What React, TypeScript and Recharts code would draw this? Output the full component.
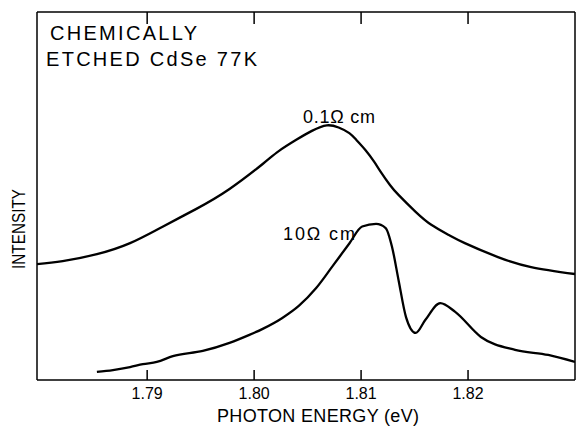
import { LineChart, Line, XAxis, YAxis } from "recharts";

// photon energy (eV) / relative intensity
const lowResEnergy = [
	1.7797, 1.7821, 1.7853, 1.7884, 1.7914, 1.7946, 1.7977, 1.8008, 1.8023, 1.8039, 1.8054, 1.8068, 1.8079, 1.8089,
	1.8096, 1.8104, 1.8112, 1.8119, 1.8127, 1.8135, 1.8151, 1.8166, 1.8182, 1.8197, 1.8228, 1.8259, 1.83,
];
const lowResIntensity = [
	31.5, 32.3, 34.2, 37.2, 41.6, 46.5, 51.9, 58.7, 62.2, 65.2, 67.7, 69.2, 68.6, 67.1, 65.1, 62.5, 59.4, 56.3, 53.0,
	50.3, 45.7, 42.1, 39.4, 37.2, 33.4, 30.7, 28.8,
];

const highResEnergy = [
	1.7853, 1.7868, 1.7884, 1.7896, 1.7909, 1.7924, 1.7952, 1.7977, 1.7995, 1.8008, 1.8026, 1.8042, 1.8058, 1.8073,
	1.8089, 1.8101, 1.8114, 1.8123, 1.8129, 1.8135, 1.8142, 1.8151, 1.816, 1.8174, 1.8188, 1.8212, 1.8244, 1.8275,
	1.83,
];
const highResIntensity = [
	2.2, 2.7, 3.5, 4.3, 4.9, 6.5, 7.9, 10.1, 12.2, 13.9, 16.8, 20.2, 25.0, 30.8, 37.1, 41.7, 42.4, 41.3, 36.1, 27.2,
	17.1, 12.8, 16.3, 20.9, 18.5, 11.7, 8.2, 6.8, 4.9,
];

const energyTicks = [1.79, 1.8, 1.81, 1.82];

const lowRes = lowResEnergy.map((e, i) => ({ energy: e, intensity: lowResIntensity[i] }));
const highRes = highResEnergy.map((e, i) => ({ energy: e, intensity: highResIntensity[i] }));

const FONT = '"Liberation Sans", Arial, sans-serif';
const axisStyle = { stroke: "#000", strokeWidth: 1.5 };
const X_DOMAIN = [1.7797, 1.83];

// ticks point into the plot, like the original figure
const BottomTick = ({ x, y, payload }: any) => (
	<g>
		<line x1={x} x2={x} y1={y} y2={y - 10} stroke="#000" strokeWidth={1.5} />
		<text x={x} y={y + 19} textAnchor="middle" fontSize={16} fontFamily={FONT} fill="#000">
			{Number(payload.value).toFixed(2)}
		</text>
	</g>
);

const TopTick = ({ x, y }: any) => <line x1={x} x2={x} y1={y} y2={y + 12} stroke="#000" strokeWidth={1.5} />;

export default function App() {
	return (
		<div
			style={{
				position: "absolute",
				left: 0,
				top: 0,
				width: 576,
				height: 427,
				overflow: "hidden",
				background: "#fff",
				fontFamily: FONT,
			}}
		>
			<LineChart width={577} height={427} margin={{ top: 11, right: 1, bottom: 0, left: 36 }}>
				<XAxis
					dataKey="energy"
					type="number"
					domain={X_DOMAIN}
					ticks={energyTicks}
					height={47}
					tickSize={0}
					tickMargin={0}
					tickLine={false}
					allowDataOverflow
					axisLine={axisStyle}
					tick={(props: any) => <BottomTick {...props} />}
				/>
				<XAxis
					xAxisId="top"
					dataKey="energy"
					type="number"
					orientation="top"
					domain={X_DOMAIN}
					ticks={energyTicks}
					height={1}
					tickSize={0}
					tickMargin={0}
					tickLine={false}
					allowDataOverflow
					axisLine={axisStyle}
					tick={(props: any) => <TopTick {...props} />}
				/>
				<YAxis type="number" domain={[0, 100]} width={1} tick={false} tickLine={false} axisLine={axisStyle} />
				<YAxis
					yAxisId="right"
					orientation="right"
					type="number"
					domain={[0, 100]}
					width={1}
					tick={false}
					tickLine={false}
					axisLine={axisStyle}
				/>
				<Line
					data={lowRes}
					dataKey="intensity"
					type="natural"
					stroke="#000"
					strokeWidth={2.3}
					dot={false}
					isAnimationActive={false}
				/>
				<Line
					data={highRes}
					dataKey="intensity"
					type="monotone"
					stroke="#000"
					strokeWidth={2.3}
					dot={false}
					isAnimationActive={false}
				/>
			</LineChart>
			<svg
				width={576}
				height={427}
				style={{ position: "absolute", left: 0, top: 0, pointerEvents: "none" }}
				fontFamily={FONT}
				fill="#000"
			>
				<text x={50} y={40} fontSize={20} textLength={147} lengthAdjust="spacing">
					CHEMICALLY
				</text>
				<text x={46} y={66} fontSize={20} textLength={211} lengthAdjust="spacing">
					ETCHED CdSe 77K
				</text>
				<text
					x={19}
					y={229}
					fontSize={18}
					textAnchor="middle"
					dominantBaseline="central"
					transform="rotate(-90 19 229)"
					textLength={80}
					lengthAdjust="spacingAndGlyphs"
				>
					INTENSITY
				</text>
				<text x={217} y={422} fontSize={18} textLength={202} lengthAdjust="spacing">
					PHOTON ENERGY (eV)
				</text>
				<text x={303} y={123} fontSize={18} textLength={72} lengthAdjust="spacing">
					0.1Ω cm
				</text>
				<text x={283} y={240} fontSize={18} textLength={72} lengthAdjust="spacing">
					10Ω cm
				</text>
			</svg>
		</div>
	);
}
